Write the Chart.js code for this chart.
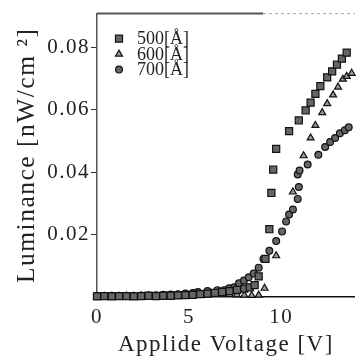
<!DOCTYPE html>
<html>
<head>
<meta charset="utf-8">
<script src="https://cdn.jsdelivr.net/npm/chart.js@4.4.0/dist/chart.umd.min.js"></script>
<style>
  html, body { margin: 0; padding: 0; background: #fff; }
  #wrap { width: 361px; height: 357px; }
</style>
</head>
<body>
<div id="wrap"><canvas id="myChart"></canvas></div>
<script>
// datos
const seriesLabels = ['500[Å]', '600[Å]', '700[Å]'];
const xTicks = [0, 5, 10];
const yTicks = [0.02, 0.04, 0.06, 0.08];

const volt500 = [0, 0.4, 0.8, 1.2, 1.6, 2.0, 2.4, 2.8, 3.2, 3.6, 4.0, 4.4, 4.8, 5.2, 5.6, 6.0, 6.4, 6.8, 7.2, 7.6, 8.0, 8.3,
  8.56, 8.78, 9.15, 9.36, 9.47, 9.57, 9.73, 10.43, 10.96, 11.33, 11.6, 11.86, 12.13, 12.5, 12.77, 13.03, 13.3, 13.56];
const lum500 = [0.0002, 0.0003, 0.0002, 0.0003, 0.0003, 0.0002, 0.0003, 0.0004, 0.0003, 0.0004, 0.0004, 0.0005, 0.0006, 0.0007, 0.0009, 0.0011, 0.0013, 0.0016, 0.0019, 0.0023, 0.0027, 0.0031,
  0.0038, 0.0066, 0.0122, 0.0217, 0.0333, 0.0408, 0.0474, 0.0531, 0.0565, 0.0597, 0.0622, 0.065, 0.0675, 0.0703, 0.0722, 0.0744, 0.0763, 0.0782];

const volt600 = [0, 0.4, 0.8, 1.2, 1.6, 2.0, 2.4, 2.8, 3.2, 3.6, 4.0, 4.4, 4.8, 5.2, 5.6, 6.0, 6.4, 6.8, 7.2, 7.6, 8.0, 8.4,
  8.78, 9.1, 9.73, 10.64, 11.22, 11.6, 11.86, 12.23, 12.5, 12.82, 13.09, 13.35, 13.56, 13.83];
const lum600 = [0.0001, 0.0002, 0.0001, 0.0002, 0.0002, 0.0001, 0.0002, 0.0002, 0.0002, 0.0003, 0.0003, 0.0003, 0.0004, 0.0005, 0.0006, 0.0007, 0.0008, 0.0009, 0.0008, 0.0007, 0.0006, 0.0005,
  0.0006, 0.0028, 0.0132, 0.0336, 0.0452, 0.0509, 0.0549, 0.059, 0.0619, 0.0647, 0.0672, 0.0697, 0.0706, 0.0716];

const volt700 = [0, 0.4, 0.8, 1.2, 1.6, 2.0, 2.4, 2.8, 3.2, 3.6, 4.0, 4.4, 4.8, 5.2,
  5.48, 6.0, 6.54, 6.9, 7.18, 7.45, 7.71, 7.98, 8.24, 8.51, 8.78, 9.04, 9.36, 9.73, 10.05, 10.27, 10.43, 10.64, 10.9, 10.96,
  10.9, 11.0, 11.44, 12.02, 12.39, 12.66, 12.93, 13.19, 13.46, 13.67];
const lum700 = [0.0003, 0.0003, 0.0004, 0.0003, 0.0004, 0.0004, 0.0005, 0.0005, 0.0006, 0.0007, 0.0008, 0.0009, 0.0011, 0.0013,
  0.0016, 0.0019, 0.0022, 0.0022, 0.0028, 0.0031, 0.0044, 0.0053, 0.0063, 0.0075, 0.0094, 0.0122, 0.0148, 0.0179, 0.021, 0.0242, 0.0264, 0.028, 0.0314, 0.0352,
  0.0392, 0.0405, 0.0424, 0.0455, 0.048, 0.0496, 0.0509, 0.0524, 0.0534, 0.0543];

function toPoints(xs, ys) {
  return xs.map((v, i) => ({ x: v, y: ys[i] }));
}

const serif = 'Liberation Serif';

// espaciado de letras (el escaneo original es algo ancho)
const spacingPlugin = {
  id: 'spacing',
  beforeUpdate(chart) { chart.ctx.letterSpacing = '1.5px'; },
  beforeDraw(chart) { chart.ctx.letterSpacing = '1.5px'; }
};

// borde superior del marco
const framePlugin = {
  id: 'frame',
  afterDraw(chart) {
    const { ctx, chartArea } = chart;
    ctx.save();
    ctx.lineWidth = 2;
    ctx.strokeStyle = '#555';
    ctx.beginPath();
    ctx.moveTo(chartArea.left, chartArea.top);
    ctx.lineTo(263, chartArea.top);
    ctx.stroke();
    ctx.lineWidth = 1;
    ctx.strokeStyle = '#aaa';
    ctx.setLineDash([3, 3]);
    ctx.beginPath();
    ctx.moveTo(263, chartArea.top);
    ctx.lineTo(chartArea.right, chartArea.top);
    ctx.stroke();
    ctx.restore();
  }
};

// leyenda dentro del area
const legendPlugin = {
  id: 'insideLegend',
  afterDatasetsDraw(chart) {
    const { ctx, chartArea } = chart;
    ctx.save();
    ctx.letterSpacing = '0px';
    ctx.font = '18px "' + serif + '"';
    ctx.textBaseline = 'middle';
    ctx.textAlign = 'left';
    chart.data.datasets.forEach((ds, i) => {
      const x = chartArea.left + 22;
      const y = chartArea.top + 25 + i * 15.5;
      ctx.fillStyle = ds.backgroundColor;
      ctx.strokeStyle = ds.borderColor;
      ctx.lineWidth = ds.borderWidth;
      Chart.helpers.drawPoint(ctx, {
        pointStyle: ds.pointStyle, radius: ds.pointRadius, borderWidth: ds.borderWidth, rotation: 0
      }, x, y);
      ctx.fillStyle = '#222';
      ctx.fillText(ds.label, x + 18, y + 1);
    });
    ctx.restore();
  }
};

const ctx = document.getElementById('myChart').getContext('2d');
const myChart = new Chart(ctx, {
  type: 'scatter',
  data: {
    datasets: [
      {
        label: seriesLabels[0],
        data: toPoints(volt500, lum500),
        pointStyle: 'rect',
        pointRadius: 5,
        backgroundColor: '#666',
        borderColor: '#111',
        borderWidth: 1.2,
        clip: false
      },
      {
        label: seriesLabels[1],
        data: toPoints(volt600, lum600),
        pointStyle: 'triangle',
        pointRadius: 4,
        backgroundColor: '#999',
        borderColor: '#111',
        borderWidth: 1.2,
        clip: false
      },
      {
        label: seriesLabels[2],
        data: toPoints(volt700, lum700),
        pointStyle: 'circle',
        pointRadius: 3.4,
        backgroundColor: '#666',
        borderColor: '#111',
        borderWidth: 1.2,
        clip: false
      }
    ]
  },
  options: {
    responsive: true,
    maintainAspectRatio: false,
    animation: false,
    layout: { padding: { top: 8, right: 0, bottom: 0, left: 0 } },
    plugins: {
      legend: { display: false },
      tooltip: { enabled: false }
    },
    scales: {
      x: {
        type: 'linear',
        min: 0,
        max: 14,
        afterBuildTicks: (s) => { s.ticks = xTicks.map(v => ({ value: v })); },
        afterFit: (s) => { s.height = 60; },
        grid: { drawOnChartArea: false, drawTicks: false },
        border: { color: '#111', width: 1.5 },
        ticks: {
          padding: 8,
          color: '#222',
          maxRotation: 0,
          font: { family: serif, size: 21 }
        },
        title: {
          display: true,
          text: 'Applide Voltage [V]',
          color: '#222',
          font: { family: serif, size: 23 },
          padding: { top: 0, bottom: -2 }
        }
      },
      y: {
        type: 'linear',
        min: 0,
        max: 0.0907,
        afterBuildTicks: (s) => { s.ticks = yTicks.map(v => ({ value: v })); },
        afterFit: (s) => { s.width = 97; },
        grid: { drawOnChartArea: false, drawTicks: true, tickLength: 6, color: '#333' },
        border: { color: '#555', width: 1.5 },
        ticks: {
          padding: 1,
          color: '#222',
          font: { family: serif, size: 21 },
          callback: (v) => v.toFixed(2)
        },
        title: {
          display: true,
          text: 'Luminance [nW/cm ²]',
          color: '#222',
          font: { family: serif, size: 25.5 },
          padding: { top: 12, bottom: 0 }
        }
      }
    }
  },
  plugins: [spacingPlugin, framePlugin, legendPlugin]
});
</script>
</body>
</html>
